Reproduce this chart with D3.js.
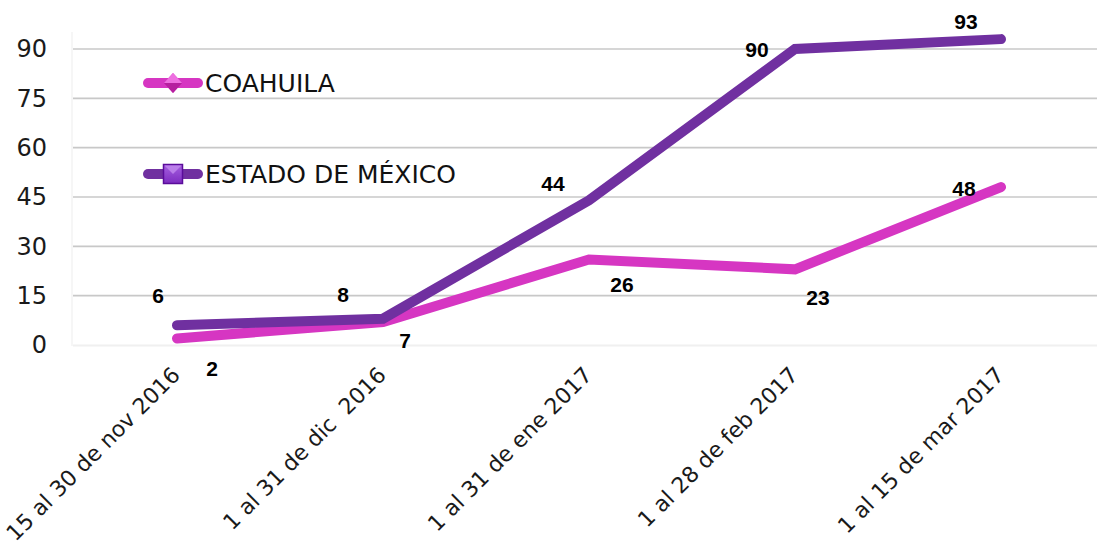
<!DOCTYPE html>
<html>
<head>
<meta charset="utf-8">
<script src="https://cdn.jsdelivr.net/npm/d3@7"></script>
<style>
  html, body { margin: 0; padding: 0; background: #ffffff; }
  svg { display: block; }
</style>
</head>
<body>
<svg id="chart" width="1097" height="546"></svg>
<script>
// ---- data ----
const categories = ["15 al 30 de nov 2016", "1 al 31 de dic  2016", "1 al 31 de ene 2017", "1 al 28 de feb 2017", "1 al 15 de mar 2017"];
const coahuila = [2, 7, 26, 23, 48];
const estadoMexico = [6, 8, 44, 90, 93];
const yTicks = [0, 15, 30, 45, 60, 75, 90];
const seriesNames = ["COAHUILA", "ESTADO DE MÉXICO"];

// ---- label placement (layout, not data) ----
const coahuilaLabelOffsets = [[35, 30], [22, 18], [33, 25], [23, 28], [-37, 1]];
const estadoLabelOffsets = [[-19, -30], [-40, -24], [-36, -17], [-38, 0], [-35, -18]];

const colors = { coahuila: "#d636c2", estado: "#7030a0" };
const svg = d3.select("#chart");

const x = d3.scalePoint().domain(categories).range([74, 1104]).padding(0.5);
const y = d3.scaleLinear().domain([0, 100]).range([345, 16.1]);

const plotLeft = 73, plotRight = 1097;

// gridlines
svg.append("g").selectAll("line").data(yTicks.filter(d => d > 0)).join("line")
  .attr("x1", plotLeft).attr("x2", plotRight)
  .attr("y1", d => y(d)).attr("y2", d => y(d))
  .attr("stroke", "#c8c8c8").attr("stroke-width", 1.6);

// faint axis lines
svg.append("line").attr("x1", plotLeft).attr("x2", plotRight)
  .attr("y1", y(0) + 0.5).attr("y2", y(0) + 0.5)
  .attr("stroke", "#f0f0f0").attr("stroke-width", 2);
svg.append("line").attr("x1", plotLeft - 1).attr("x2", plotLeft - 1)
  .attr("y1", 32).attr("y2", y(0) + 1)
  .attr("stroke", "#f3f3f3").attr("stroke-width", 1.5);

// y tick labels
const yAxis = d3.axisLeft(y).tickValues(yTicks).tickSize(0).tickPadding(0);
const gy = svg.append("g").attr("transform", "translate(47,0)").call(yAxis);
gy.select(".domain").remove();
gy.selectAll("text")
  .attr("font-family", "'DejaVu Sans', sans-serif")
  .attr("font-size", 24).attr("fill", "#1a1a1a");

// x tick labels (rotated)
svg.append("g").selectAll("text").data(categories).join("text")
  .attr("transform", d => `translate(${x(d) - 7},365) rotate(-45)`)
  .attr("text-anchor", "end")
  .attr("dy", "0.73em")
  .attr("font-family", "'DejaVu Sans', sans-serif")
  .attr("font-size", 22).attr("fill", "#1a1a1a")
  .style("white-space", "pre")
  .text(d => d);

// lines
const line = d3.line().x((d, i) => x(categories[i])).y(d => y(d));
function drawLine(values, color) {
  svg.append("path").datum(values)
    .attr("d", line)
    .attr("fill", "none")
    .attr("stroke", color)
    .attr("stroke-width", 10)
    .attr("stroke-linecap", "round")
    .attr("stroke-linejoin", "miter");
}
drawLine(coahuila, colors.coahuila);
drawLine(estadoMexico, colors.estado);

// data labels
function drawLabels(values, offsets) {
  svg.append("g").selectAll("text").data(values).join("text")
    .attr("x", (d, i) => x(categories[i]) + offsets[i][0])
    .attr("y", (d, i) => y(d) + offsets[i][1])
    .attr("text-anchor", "middle")
    .attr("dy", "0.36em")
    .attr("font-family", "'Liberation Sans', Arial, sans-serif")
    .attr("font-weight", "bold")
    .attr("font-size", 21).attr("fill", "#000")
    .text(d => d);
}
drawLabels(coahuila, coahuilaLabelOffsets);
drawLabels(estadoMexico, estadoLabelOffsets);

// legend
const defs = svg.append("defs");
const g1 = defs.append("linearGradient").attr("id", "sqGrad").attr("x1", 0).attr("y1", 0).attr("x2", 0).attr("y2", 1);
g1.append("stop").attr("offset", "0%").attr("stop-color", "#a55fe0");
g1.append("stop").attr("offset", "100%").attr("stop-color", "#7d2cc0");

const legendY = [83, 174];
const legendColors = [colors.coahuila, colors.estado];
const lg = svg.append("g");
seriesNames.forEach((name, i) => {
  const ly = legendY[i];
  lg.append("line").attr("x1", 148).attr("x2", 198).attr("y1", ly).attr("y2", ly)
    .attr("stroke", legendColors[i]).attr("stroke-width", 10).attr("stroke-linecap", "round");
  lg.append("text").attr("x", 205).attr("y", ly).attr("dy", "0.36em")
    .attr("font-family", "'DejaVu Sans', sans-serif")
    .attr("font-size", 25).attr("fill", "#111")
    .text(name);
});
// diamond marker
const dcx = 173, dcy = legendY[0];
lg.append("path").attr("d", `M${dcx},${dcy - 10} L${dcx + 9},${dcy} L${dcx},${dcy + 10} L${dcx - 9},${dcy} Z`)
  .attr("fill", "#cf2fbd");
lg.append("path").attr("d", `M${dcx},${dcy - 10} L${dcx + 9},${dcy} L${dcx - 9},${dcy} Z`)
  .attr("fill", "#ee6fe0");
lg.append("path").attr("d", `M${dcx - 9},${dcy} L${dcx},${dcy + 10} L${dcx + 9},${dcy} Z`)
  .attr("fill", "#b6209f");
// square marker
const scx = 173, scy = legendY[1];
lg.append("rect").attr("x", scx - 9.5).attr("y", scy - 9.5).attr("width", 19).attr("height", 19)
  .attr("fill", "url(#sqGrad)").attr("stroke", "#5a0c9a").attr("stroke-width", 1.5);
lg.append("path").attr("d", `M${scx - 8.5},${scy - 8.5} L${scx + 8.5},${scy - 8.5} L${scx},${scy} Z`)
  .attr("fill", "#bf86ec").attr("opacity", 0.85);
</script>
</body>
</html>
